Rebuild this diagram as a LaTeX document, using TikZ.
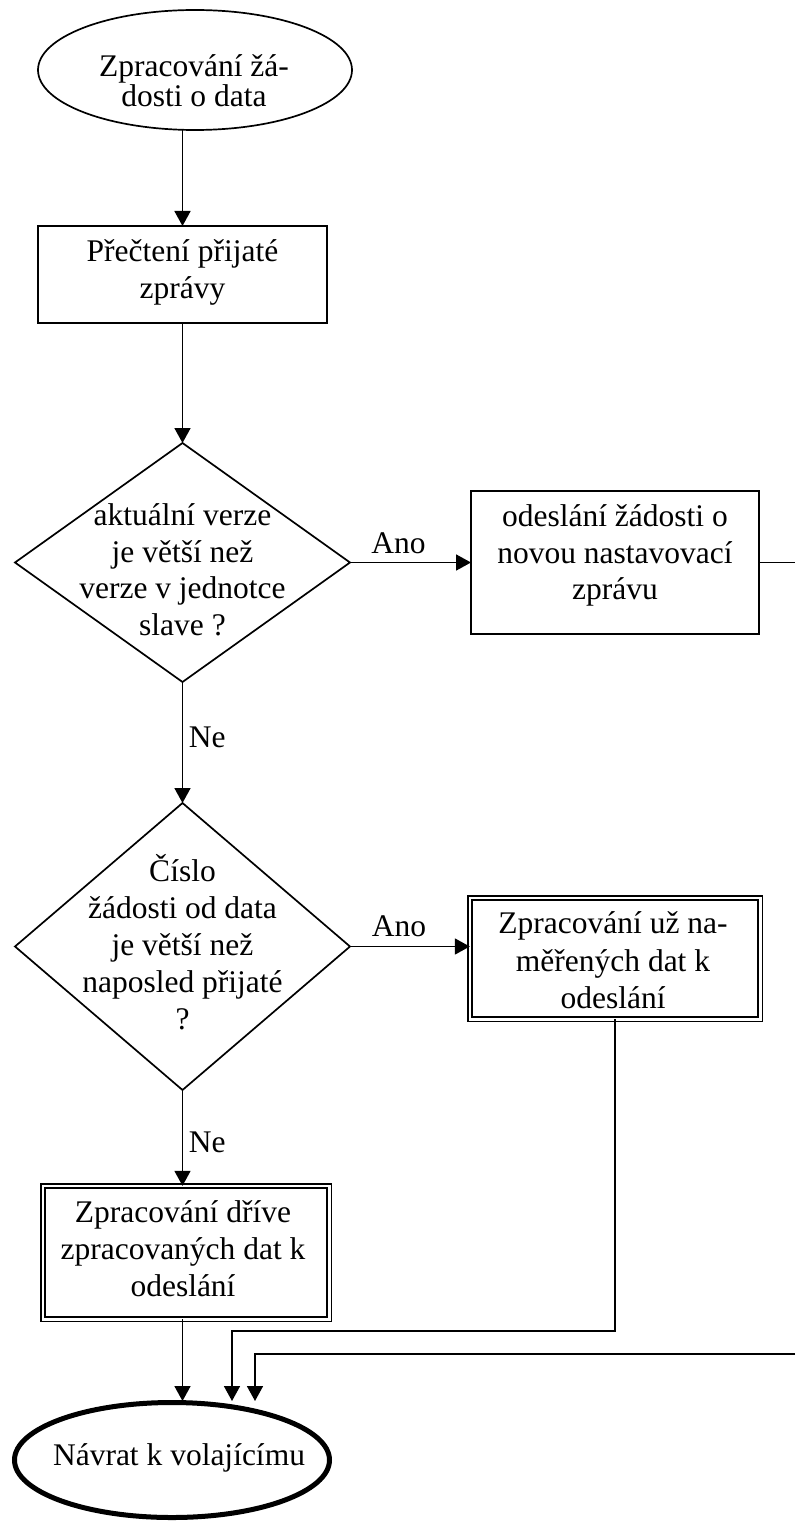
\documentclass[tikz,border=0pt]{standalone}
\usepackage{fontspec}
\setmainfont{Liberation Serif}
\usetikzlibrary{shapes.geometric,arrows.meta}
\begin{document}
\begin{tikzpicture}[x=1pt,y=-1pt,
  line width=1.7pt,
  shapebox/.style={draw, inner sep=0pt, outer sep=0pt},
  rectbox/.style={shapebox, rectangle},
  dblbox/.style={shapebox, rectangle, double, double distance=2.6pt, line width=1.5pt},
  decision/.style={shapebox, diamond},
  term/.style={shapebox, ellipse},
  txt/.style={inner sep=0pt, align=center, anchor=north,
    font=\fontsize{31.5}{37}\selectfont,
    execute at begin node={\rule{0pt}{26pt}}},
  lbl/.style={inner sep=0pt, font=\fontsize{31.5}{37}\selectfont},
  arr/.style={-{Triangle[length=15pt,width=16pt]}},
]
\useasboundingbox (0,0) rectangle (795,1522);

% shapes
\node[term, minimum width=314pt, minimum height=120pt] (start) at (195,70) {};
\node[rectbox, minimum width=289pt, minimum height=97pt] (r1) at (182.5,274.5) {};
\node[decision, minimum width=335pt, minimum height=239pt] (d1) at (182.5,562.5) {};
\node[rectbox, minimum width=288pt, minimum height=143pt] (r2) at (615,562.5) {};
\node[decision, minimum width=335pt, minimum height=287pt] (d2) at (182.5,946.5) {};
\node[dblbox, minimum width=290.4pt, minimum height=121.4pt] (r3) at (615,958.5) {};
\node[dblbox, minimum width=286.4pt, minimum height=133.4pt] (r4) at (186,1252.5) {};
\node[term, line width=5pt, minimum width=315pt, minimum height=115pt] (end) at (172,1460) {};

% texts
\node[txt, font=\fontsize{31.5}{30}\selectfont] (startt) at (194,54) {Zpracování žá-\\dosti o data};
\node[txt] (r1t) at (182.5,239) {Přečtení přijaté\\zprávy};
\node[txt, font=\fontsize{31.5}{36.5}\selectfont] (d1t) at (182.5,503) {aktuální verze\\je větší než\\verze v jednotce\\slave ?};
\node[txt, font=\fontsize{31.5}{36.5}\selectfont] (r2t) at (615,504) {odeslání žádosti o\\novou nastavovací\\zprávu};
\node[txt] (d2t) at (182.5,854) {Číslo\\žádosti od data\\je větší než\\naposled přijaté\\?};
\node[txt, font=\fontsize{31.5}{37.5}\selectfont] (r3t) at (613,911) {Zpracování už na-\\měřených dat k\\odeslání};
\node[txt] (r4t) at (183,1200) {Zpracování dříve\\zpracovaných dat k\\odeslání};
\node[txt] (endt) at (179,1439) {Návrat k volajícímu};

% connector end points
\coordinate (eR1) at (795,562.5);
\coordinate (eR2) at (795,1354);
\coordinate (bend3) at (232,1331);
\coordinate (in1) at (182.5,1401);
\coordinate (in2) at (232,1401);
\coordinate (in3) at (255,1401);

% connectors
\draw[arr] (start.south -| r1.north) -- (r1.north);
\draw[arr] (r1.south) -- (d1.north);
\draw[arr] (d1.east) -- node[lbl, pos=0.4, anchor=base, yshift=9.5pt] (ano1) {Ano} (r2.west);
\draw (r2.east) -- (eR1);
\draw[arr] (d1.south) -- node[lbl, pos=0.545, anchor=base west, xshift=5.5pt] (ne1) {Ne} (d2.north);
\draw[arr] (d2.east) -- node[lbl, pos=0.41, anchor=base, yshift=10.5pt] (ano2) {Ano} (d2.east -| r3.west);
\draw[arr] (d2.south) -- node[lbl, pos=0.656, anchor=base west, xshift=5.5pt] (ne2) {Ne} (d2.south |- r4.north);
\draw[arr] (r4.south -| in1) -- (in1);
\draw[arr] (r3.south) |- (bend3) -- (in2);
\draw[arr] (eR2) -| (in3);
\end{tikzpicture}
\end{document}
